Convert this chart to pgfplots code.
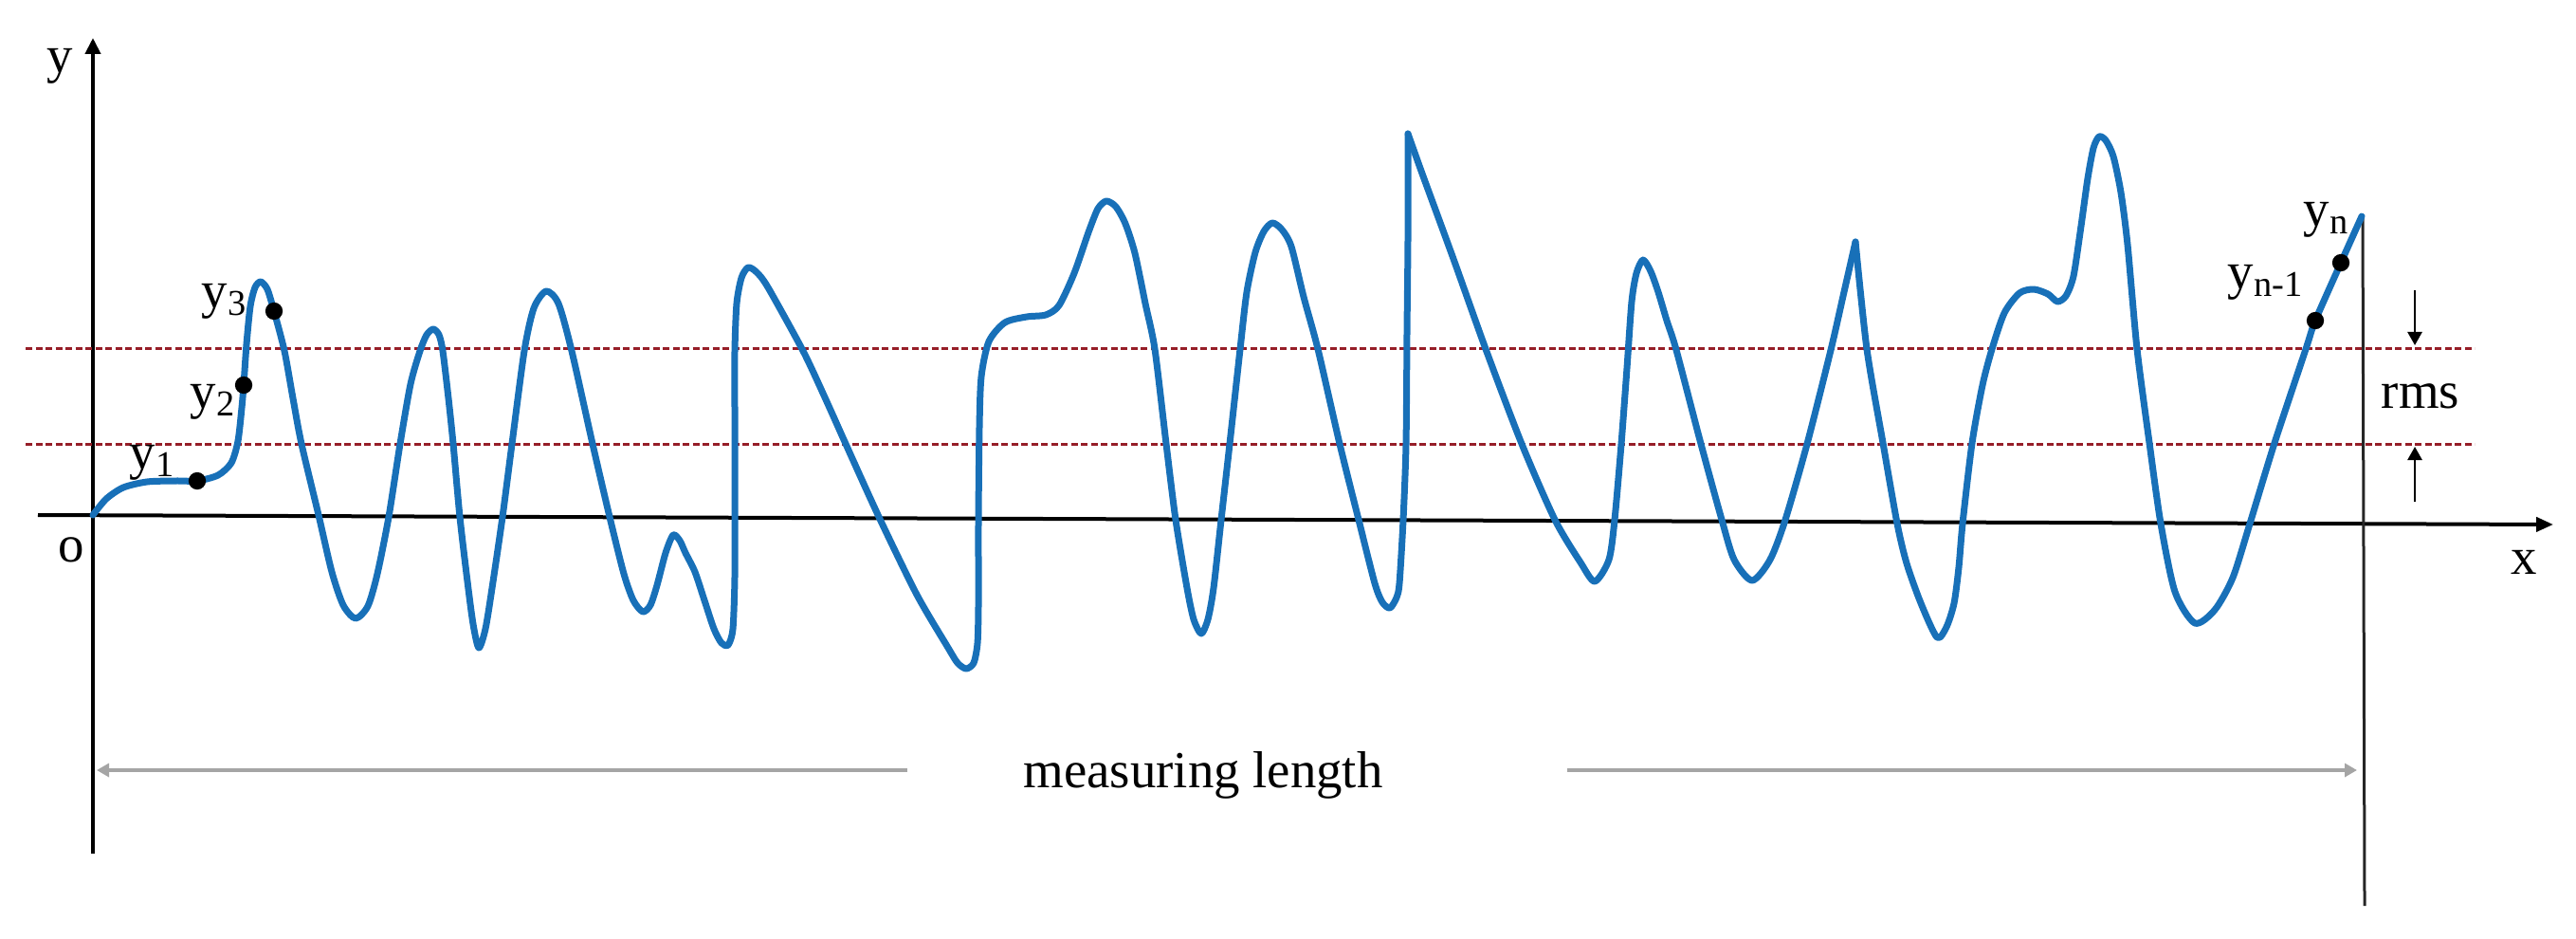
\documentclass[border=0pt]{standalone}
\usepackage{fontspec}
\setmainfont{Liberation Serif}
\usepackage{pgfplots}
\pgfplotsset{compat=1.18}
\usetikzlibrary{arrows.meta}

\definecolor{profile}{RGB}{24,112,184}
\definecolor{rmsred}{RGB}{150,30,40}
\definecolor{lengthgray}{RGB}{165,165,165}

\tikzset{
    lbl/.style={font=\fontsize{15.6}{18}\selectfont, inner sep=0pt},
    prof/.style={profile, line width=0.7mm, smooth, tension=0.45, line join=round, line cap=round},
}

\begin{document}
\begin{tikzpicture}
\begin{axis}[
    width=271.7mm, height=98.9mm, scale only axis,
    xmin=-98, xmax=2619, ymin=-441, ymax=548,
    axis lines=none, ticks=none, clip=false,
]
% keep the page as large as the picture
\path (axis cs:-98,-441) rectangle (axis cs:2619,548);

% coordinate axes
\draw[black, line width=0.4mm, -{Triangle[length=1.7mm, width=1.6mm]}] (axis cs:0,-352) -- (axis cs:0,508);
\draw[black, line width=0.4mm, -{Triangle[length=1.8mm, width=1.5mm]}] (axis cs:-58,5) -- (axis cs:2595,-5);
% end of the measuring length
\draw[black!85, line width=0.3mm] (axis cs:2394,320) -- (axis cs:2396,-407);

% rms band
\addplot[rmsred, line width=0.3mm, dash pattern=on 0.7mm off 0.35mm] coordinates {(-71,180) (2512,180)};
\addplot[rmsred, line width=0.3mm, dash pattern=on 0.7mm off 0.35mm] coordinates {(-71,80) (2512,80)};

% profile, three pieces so that the sharp peaks stay sharp
\addplot[prof] coordinates {
(0,5) (14,22) (32,34) (57,40) (87,41) (110,41) (132,47) (146,60) (153,83)
(157,118) (159,142) (162,185) (166,225) (171,245) (177,251) (184,243) (191,220)
(202,178) (211,128) (220,80) (238,5) (252,-55) (264,-90) (277,-104) (290,-91)
(300,-57) (312,3) (324,80) (335,143) (345,178) (352,195) (359,201) (365,195)
(369,178) (375,128) (380,80) (387,3) (395,-65) (401,-110) (407,-135) (414,-115)
(421,-72) (432,3) (442,80) (455,178) (465,223) (478,241) (491,228) (505,178)
(527,80) (545,3) (560,-57) (570,-85) (580,-97) (588,-90) (595,-69) (604,-35)
(612,-16) (619,-22) (625,-35) (635,-55) (645,-85) (655,-115) (663,-130)
(670,-132) (675,-115) (677,-60) (677,20) (677,110) (677,178) (679,228)
(684,255) (691,266) (700,261) (712,245) (749,178) (772,129) (794,80) (829,3)
(869,-79) (902,-135) (912,-151) (921,-157) (929,-151) (933,-130) (934,-90)
(934,-2) (935,98) (937,151) (945,188) (962,208) (985,214) (1005,216)
(1019,226) (1035,260) (1050,303) (1060,328) (1069,336) (1079,330) (1089,312)
(1099,281) (1110,228) (1120,180) (1132,80) (1142,0) (1154,-72) (1161,-105)
(1169,-120) (1176,-105) (1182,-72) (1190,0) (1199,80) (1210,180) (1217,240)
(1226,282) (1235,304) (1244,313) (1254,306) (1264,288) (1277,235) (1292,180)
(1315,80) (1335,0) (1352,-67) (1360,-87) (1368,-93) (1375,-82) (1378,-67)
(1382,0) (1385,80) (1386,198) (1387,298) (1387,407)
};
\addplot[prof] coordinates {
(1387,407) (1402,365) (1435,275) (1469,180) (1507,80) (1542,0) (1569,-45)
(1584,-65) (1599,-42) (1605,0) (1612,80) (1618,160) (1623,230) (1628,260)
(1635,274) (1643,262) (1651,240) (1660,210) (1670,179) (1696,80) (1718,0)
(1731,-42) (1750,-64) (1769,-42) (1785,0) (1808,80) (1833,179) (1846,236)
(1859,293)
};
\addplot[prof] coordinates {
(1859,293) (1871,180) (1888,81) (1903,-4) (1913,-46) (1928,-88) (1945,-124)
(1955,-113) (1963,-88) (1968,-50) (1972,-4) (1982,81) (1993,142) (2003,180)
(2016,218) (2032,239) (2047,243) (2062,238) (2072,230) (2081,236) (2089,257)
(2097,310) (2104,360) (2110,392) (2116,404) (2123,400) (2131,383) (2139,345)
(2146,290) (2156,180) (2169,81) (2181,-4) (2196,-76) (2217,-109) (2238,-95)
(2257,-61) (2275,-4) (2301,81) (2334,180) (2344,210) (2371,271) (2393,320)
};

% sampled points
\addplot[only marks, mark=*, mark size=2.4pt, black] coordinates {
(110,41) (159,142) (191,220) (2344,210) (2371,271)
};

% rms arrows
\draw[black, line width=0.25mm, -{Triangle[length=1.4mm, width=1.5mm]}] (axis cs:2449,242) -- (axis cs:2449,184);
\draw[black, line width=0.25mm, -{Triangle[length=1.4mm, width=1.5mm]}] (axis cs:2449,19) -- (axis cs:2449,77);

% measuring length arrows
\draw[lengthgray, line width=0.4mm, -{Triangle[length=1.3mm, width=1.4mm]}] (axis cs:859,-264) -- (axis cs:4,-264);
\draw[lengthgray, line width=0.4mm, -{Triangle[length=1.3mm, width=1.4mm]}] (axis cs:1555,-264) -- (axis cs:2388,-264);

% labels
\node[lbl] at (axis cs:-35,478) {y};
\node[lbl] at (axis cs:-23,-32) {o};
\node[lbl] at (axis cs:2564,-45) {x};
\node[lbl] at (axis cs:63,60) {y\textsubscript{1}};
\node[lbl] at (axis cs:127,124) {y\textsubscript{2}};
\node[lbl] at (axis cs:139,230) {y\textsubscript{3}};
\node[lbl] at (axis cs:2292,250) {y\textsubscript{n-1}};
\node[lbl] at (axis cs:2356,316) {y\textsubscript{n}};
\node[lbl] at (axis cs:2455,130) {rms};
\node[lbl] at (axis cs:1171,-269) {measuring length};
\end{axis}
\end{tikzpicture}
\end{document}
